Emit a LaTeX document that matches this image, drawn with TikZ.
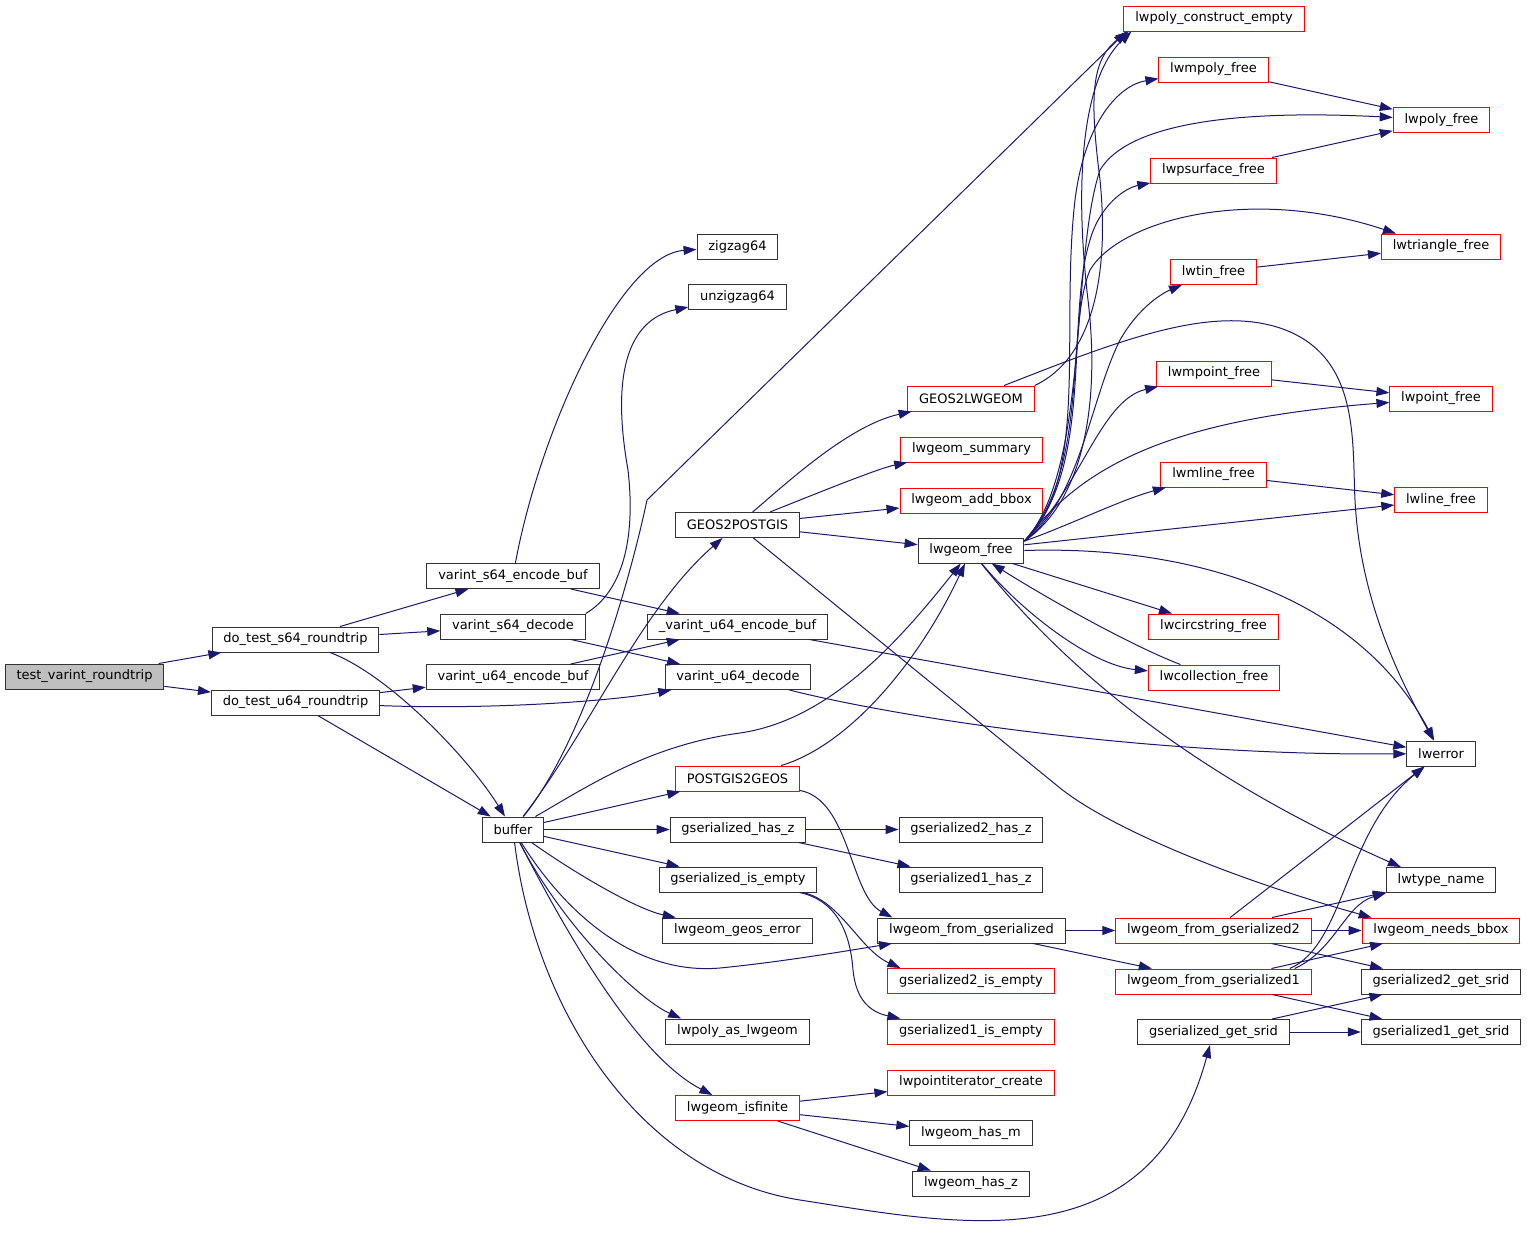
\documentclass[tikz,border=0pt]{standalone}
\usepackage{fontspec}
\setmainfont{DejaVu Sans}
\usetikzlibrary{arrows.meta}
\definecolor{edgeblue}{HTML}{191970}
\definecolor{rootgray}{HTML}{BFBFBF}
\begin{document}
\begin{tikzpicture}[x=1pt, y=-1pt,
    fn/.style = {draw=black!80, line width=1pt, rectangle, minimum height=25pt,
      inner xsep=11.3pt, inner ysep=0pt, font=\fontsize{13}{15}\selectfont},
    fnred/.style = {fn, draw=red},
    fnroot/.style = {fn, fill=rootgray},
    call/.style = {-{Triangle[length=13pt,width=9pt]}, edgeblue, line width=1pt}]
  \useasboundingbox (0,0) rectangle (1527,1235);

  \node [fnroot] (root) at (84.5,676.5) {test\_varint\_roundtrip};
  \node [fn] (s64rt) at (295.5,639.5) {do\_test\_s64\_roundtrip};
  \node [fn] (u64rt) at (295.5,702.5) {do\_test\_u64\_roundtrip};
  \node [fn] (s64enc) at (513,576) {varint\_s64\_encode\_buf};
  \node [fn] (s64dec) at (513,626.5) {varint\_s64\_decode};
  \node [fn] (u64enc) at (513,677) {varint\_u64\_encode\_buf};
  \node [fn] (buffer) at (513,829.5) {buffer};
  \node [fn] (zigzag) at (737.5,246.5) {zigzag64};
  \node [fn] (unzigzag) at (737.5,297) {unzigzag64};
  \node [fn] (g2p) at (737.5,525) {GEOS2POSTGIS};
  \node [fn] (u64encbuf) at (737.5,626.5) {\_varint\_u64\_encode\_buf};
  \node [fn] (u64dec) at (738,677) {varint\_u64\_decode};
  \node [fnred] (p2g) at (737.5,778.5) {POSTGIS2GEOS};
  \node [fn] (hasz) at (738,829.5) {gserialized\_has\_z};
  \node [fn] (isempty) at (738,879.5) {gserialized\_is\_empty};
  \node [fn] (geoserr) at (737.5,930.5) {lwgeom\_geos\_error};
  \node [fn] (polyas) at (737.5,1031.5) {lwpoly\_as\_lwgeom};
  \node [fnred] (isfinite) at (737.5,1108) {lwgeom\_isfinite};
  \node [fnred] (g2l) at (971,398.5) {GEOS2LWGEOM};
  \node [fnred] (summary) at (971.5,449.5) {lwgeom\_summary};
  \node [fnred] (addbbox) at (971.5,500.5) {lwgeom\_add\_bbox};
  \node [fn] (free) at (971,550.5) {lwgeom\_free};
  \node [fn] (hasz2) at (971,829.5) {gserialized2\_has\_z};
  \node [fn] (hasz1) at (971,879.5) {gserialized1\_has\_z};
  \node [fn] (fromgs) at (971.5,930.5) {lwgeom\_from\_gserialized};
  \node [fnred] (isempty2) at (971,981) {gserialized2\_is\_empty};
  \node [fnred] (isempty1) at (971,1031.5) {gserialized1\_is\_empty};
  \node [fnred] (ptiter) at (971,1082.5) {lwpointiterator\_create};
  \node [fn] (hasm) at (971,1133) {lwgeom\_has\_m};
  \node [fn] (hasz0) at (971,1183.5) {lwgeom\_has\_z};
  \node [fnred] (polyce) at (1214,18.5) {lwpoly\_construct\_empty};
  \node [fnred] (mpolyfree) at (1213.5,69.5) {lwmpoly\_free};
  \node [fnred] (psurffree) at (1213.5,170.5) {lwpsurface\_free};
  \node [fnred] (tinfree) at (1213.5,272) {lwtin\_free};
  \node [fnred] (mpointfree) at (1214,373.5) {lwmpoint\_free};
  \node [fnred] (mlinefree) at (1213.5,474.5) {lwmline\_free};
  \node [fnred] (circfree) at (1213.5,626.5) {lwcircstring\_free};
  \node [fnred] (collfree) at (1214,677.5) {lwcollection\_free};
  \node [fnred] (fromgs2) at (1213.5,930.5) {lwgeom\_from\_gserialized2};
  \node [fnred] (fromgs1) at (1213.5,981.5) {lwgeom\_from\_gserialized1};
  \node [fn] (getsrid) at (1213.5,1032) {gserialized\_get\_srid};
  \node [fnred] (polyfree) at (1441.5,120) {lwpoly\_free};
  \node [fnred] (trifree) at (1441,246.5) {lwtriangle\_free};
  \node [fnred] (pointfree) at (1441,398.5) {lwpoint\_free};
  \node [fnred] (linefree) at (1441,500) {lwline\_free};
  \node [fn] (lwerror) at (1441,753.5) {lwerror};
  \node [fn] (typename) at (1441,880) {lwtype\_name};
  \node [fnred] (needsbbox) at (1441,930.5) {lwgeom\_needs\_bbox};
  \node [fn] (getsrid2) at (1441,981.5) {gserialized2\_get\_srid};
  \node [fn] (getsrid1) at (1441,1032) {gserialized1\_get\_srid};

  % round trip tests
  \draw [call] (root) -- (s64rt);
  \draw [call] (root) -- (u64rt);
  \draw [call] (s64rt) -- (s64enc);
  \draw [call] (s64rt) -- (s64dec);
  \draw [call] (s64rt) .. controls (390,675) and (470,760) .. (buffer);
  \draw [call] (u64rt) -- (u64enc);
  \draw [call] (u64rt) .. controls (500,710) and (620,700) .. (u64dec);
  \draw [call] (u64rt) -- (buffer);

  % varint
  \draw [call] (s64enc) .. controls (540,430) and (620,255) .. (zigzag);
  \draw [call] (s64enc) -- (u64encbuf);
  \draw [call] (s64dec.north east) .. controls (622,592) and (636,540) .. (628,470)
    .. controls (612,380) and (625,320) .. (unzigzag);
  \draw [call] (s64dec) -- (u64dec);
  \draw [call] (u64enc) -- (u64encbuf);
  \draw [call] (u64encbuf) -- (lwerror);
  \draw [call] (u64dec) .. controls (900,718) and (1150,756) .. (lwerror);

  % buffer
  \draw [call] (buffer) .. controls (585,740) and (630,580) .. (647,500) -- ([xshift=3pt]polyce.south west);
  \draw [call] (buffer) .. controls (590,730) and (640,610) .. (g2p);
  \draw [call] (buffer) .. controls (590,785) and (650,745) .. (740,733)
    .. controls (830,720) and (900,640) .. (free);
  \draw [call] (buffer) -- (p2g);
  \draw [call] (buffer) -- (hasz);
  \draw [call] (buffer) -- (isempty);
  \draw [call] (buffer) .. controls (585,880) and (640,910) .. (geoserr);
  \draw [call] (buffer) .. controls (570,920) and (640,975) .. (720,968)
    .. controls (780,962) and (840,952) .. (fromgs);
  \draw [call] (buffer) .. controls (565,930) and (640,1000) .. (polyas.167);
  \draw [call] (buffer) .. controls (565,930) and (635,1055) .. (isfinite);
  \draw [call] (buffer) .. controls (535,1010) and (640,1175) .. (800,1200)
    .. controls (960,1225) and (1150,1265) .. (getsrid);

  % geos conversions
  \draw [call] (g2p) .. controls (790,480) and (850,425) .. (g2l);
  \draw [call] (g2p) .. controls (830,488) and (880,468) .. (summary);
  \draw [call] (g2p) -- (addbbox);
  \draw [call] (g2p) -- (free);
  \draw [call] (g2p) -- (1060,788) .. controls (1110,828) and (1230,878) .. ([xshift=10pt]needsbbox.north west);
  \draw [call] (p2g) .. controls (850,745) and (920,660) .. (free);
  \draw [call] (p2g) .. controls (850,800) and (850,895) .. ([xshift=15pt]fromgs.north west);
  \draw [call] (g2l) .. controls (1120,340) and (1210,305) .. (1280,328)
    .. controls (1360,355) and (1352,440) .. (1355,500)
    .. controls (1360,600) and (1400,680) .. (lwerror);
  \draw [call] (g2l.north east) .. controls (1090,360) and (1110,280) .. (1100,180)
    .. controls (1090,100) and (1090,60) .. ([xshift=5pt]polyce.south west);

  % serialized
  \draw [call] (hasz) -- (hasz2);
  \draw [call] (hasz) -- (hasz1);
  \draw [call] (isempty) .. controls (840,900) and (860,950) .. ([xshift=13pt]isempty2.north west);
  \draw [call] (isempty) .. controls (835,900) and (850,930) .. (853,970)
    .. controls (856,1000) and (870,1012) .. ([xshift=13pt]isempty1.north west);
  \draw [call] (isfinite) -- (ptiter);
  \draw [call] (isfinite) -- (hasm);
  \draw [call] (isfinite) -- (hasz0);
  \draw [call] (fromgs) -- (fromgs2);
  \draw [call] (fromgs) -- (fromgs1);
  \draw [call] (fromgs2) -- (lwerror);
  \draw [call] (fromgs2) -- (typename);
  \draw [call] (fromgs2) -- (needsbbox);
  \draw [call] (fromgs2) -- (getsrid2);
  \draw [call] ([xshift=-22pt]fromgs1.north east) .. controls (1345,945) and (1345,830) .. (lwerror);
  \draw [call] ([xshift=-17pt]fromgs1.north east) .. controls (1335,950) and (1345,905) .. (typename.south west);
  \draw [call] (fromgs1) -- (needsbbox);
  \draw [call] (fromgs1) -- (getsrid1);
  \draw [call] (getsrid) -- (getsrid2);
  \draw [call] (getsrid) -- (getsrid1);

  % lwgeom_free
  \draw [call] (free.10) .. controls (1085,500) and (1100,400) .. (1088,300)
    .. controls (1075,190) and (1080,80) .. ([xshift=8pt]polyce.south west);
  \draw [call] (free.10) .. controls (1090,480) and (1060,330) .. (1075,200)
    .. controls (1085,120) and (1120,85) .. (mpolyfree);
  \draw [call] (free.10) .. controls (1090,470) and (1070,260) .. (1100,170)
    .. controls (1130,120) and (1250,110) .. (polyfree);
  \draw [call] (free.10) .. controls (1095,470) and (1065,320) .. (1090,240)
    .. controls (1100,205) and (1125,188) .. (psurffree);
  \draw [call] (free.10) .. controls (1090,470) and (1065,330) .. (1090,270)
    .. controls (1120,220) and (1250,185) .. ([xshift=15pt]trifree.north west);
  \draw [call] (free.10) .. controls (1080,500) and (1090,400) .. (1120,340)
    .. controls (1140,305) and (1165,292) .. (tinfree);
  \draw [call] (free.10) .. controls (1080,490) and (1100,400) .. (mpointfree);
  \draw [call] (free.10) .. controls (1080,470) and (1160,420) .. (pointfree);
  \draw [call] (free.10) .. controls (1070,525) and (1120,500) .. (mlinefree);
  \draw [call] (free) -- (linefree);
  \draw [call] (free.east) .. controls (1200,545) and (1360,600) .. (lwerror);
  \draw [call] (free) -- (circfree);
  \draw [call] (free) .. controls (1020,610) and (1090,665) .. (collfree);
  \draw [call] (collfree) .. controls (1130,645) and (1050,600) .. (free);
  \draw [call] (free) .. controls (1050,650) and (1170,765) .. ([xshift=15pt]typename.north west);
  \draw [call] (mpolyfree) -- (polyfree);
  \draw [call] (psurffree) -- (polyfree);
  \draw [call] (tinfree) -- (trifree);
  \draw [call] (mpointfree) -- (pointfree);
  \draw [call] (mlinefree) -- (linefree);
\end{tikzpicture}
\end{document}
